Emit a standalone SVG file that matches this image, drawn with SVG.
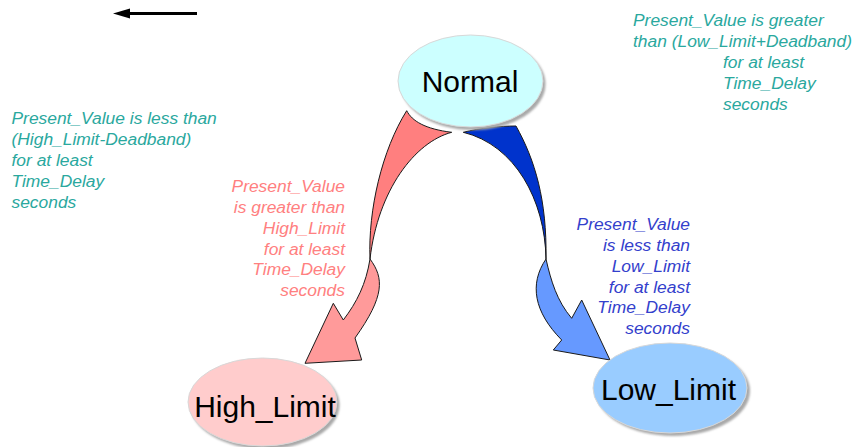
<svg xmlns="http://www.w3.org/2000/svg" width="853" height="447" viewBox="0 0 853 447">
  <defs>
    <filter id="shadow" x="-10%" y="-10%" width="130%" height="130%">
      <feGaussianBlur stdDeviation="1.2"/>
    </filter>
  </defs>
  <style>
    .state { stroke: #d8d8d8; stroke-width: 1; }
    .shade { fill: #a9a9a9; filter: url(#shadow); }
    .state-label { font-family: "Liberation Sans", Arial, sans-serif; font-size: 30px; fill: #000; text-anchor: middle; }
    .arrow { stroke: #1a1a1a; stroke-width: 1; stroke-linejoin: miter; }
    .cond { font-family: "Liberation Sans", Arial, sans-serif; font-size: 17.4px; font-style: italic; }
    .teal { fill: #2AA89E; }
    .red { fill: #FF8080; text-anchor: end; }
    .blue { fill: #3340CC; text-anchor: end; }
  </style>

  <rect width="853" height="447" fill="#ffffff"/>

  <!-- direction hint in the top-left corner -->
  <g id="legend-arrow">
    <line x1="128" y1="13.5" x2="197" y2="13.5" stroke="#000" stroke-width="3"/>
    <polygon points="113,13.5 130,8.5 130,18.5" fill="#000"/>
  </g>

  <!-- transition arrows -->
  <g id="connectors">
    <!-- Normal -> High_Limit -->
    <g id="to-high">
      <path class="arrow" fill="#FF7F7F"
            d="M406.7,110.7 C412,121 425,129 451.7,132.3 C415,142 378,190 370,259 C368,210 382,150 406.7,110.7 Z"/>
      <path class="arrow" fill="#FF9A9A"
            d="M370,259 C384,278 385,296 355,338 L361.7,360 L305,363.3 L333.3,303.3 L343.3,320 C357,302 366,284 370,259 Z"/>
    </g>
    <!-- Normal -> Low_Limit -->
    <g id="to-low">
      <path class="arrow" fill="#0033CC"
            d="M463.3,132.3 C480,128 500,126 516,126 C535,160 547,200 546,259 C545,200 515,145 463.3,132.3 Z"/>
      <path class="arrow" fill="#6699FF"
            d="M546,259 C551,281 557,301 571.7,318.3 L581.7,300 L610,360 L553.3,350 L561.7,340 C534,312 529,284 546,259 Z"/>
    </g>
  </g>

  <!-- states -->
  <g id="normal">
    <ellipse class="shade" cx="473" cy="84" rx="72.5" ry="46"/>
    <ellipse class="state" cx="470.5" cy="81" rx="72.5" ry="46" fill="#CCFFFF"/>
    <text class="state-label" x="470" y="92">Normal</text>
  </g>

  <g id="high_limit">
    <ellipse class="shade" cx="265" cy="405" rx="74.5" ry="44"/>
    <ellipse class="state" cx="262.5" cy="402" rx="74.5" ry="44" fill="#FFCCCC"/>
    <text class="state-label" x="265" y="417">High_Limit</text>
  </g>

  <g id="low_limit">
    <ellipse class="shade" cx="673" cy="391" rx="77" ry="45"/>
    <ellipse class="state" cx="670" cy="388" rx="77" ry="45" fill="#99CCFF"/>
    <text class="state-label" x="668.5" y="400">Low_Limit</text>
  </g>

  <!-- transition conditions -->
  <g id="label-high-to-normal" class="cond teal">
    <text x="11.5" y="124">Present_Value is less than</text>
    <text x="11.5" y="145">(High_Limit-Deadband)</text>
    <text x="11.5" y="166">for at least</text>
    <text x="11.5" y="187">Time_Delay</text>
    <text x="11.5" y="208">seconds</text>
  </g>

  <g id="label-low-to-normal" class="cond teal">
    <text x="633" y="26">Present_Value is greater</text>
    <text x="633" y="47">than (Low_Limit+Deadband)</text>
    <text x="723" y="68">for at least</text>
    <text x="723" y="89">Time_Delay</text>
    <text x="723" y="110">seconds</text>
  </g>

  <g id="label-to-high" class="cond red">
    <text x="345" y="192">Present_Value</text>
    <text x="345" y="213">is greater than</text>
    <text x="345" y="234">High_Limit</text>
    <text x="345" y="254.5">for at least</text>
    <text x="345" y="275">Time_Delay</text>
    <text x="345" y="296">seconds</text>
  </g>

  <g id="label-to-low" class="cond blue">
    <text x="690" y="230">Present_Value</text>
    <text x="690" y="251">is less than</text>
    <text x="690" y="272">Low_Limit</text>
    <text x="690" y="292.5">for at least</text>
    <text x="690" y="313">Time_Delay</text>
    <text x="690" y="334">seconds</text>
  </g>
</svg>
